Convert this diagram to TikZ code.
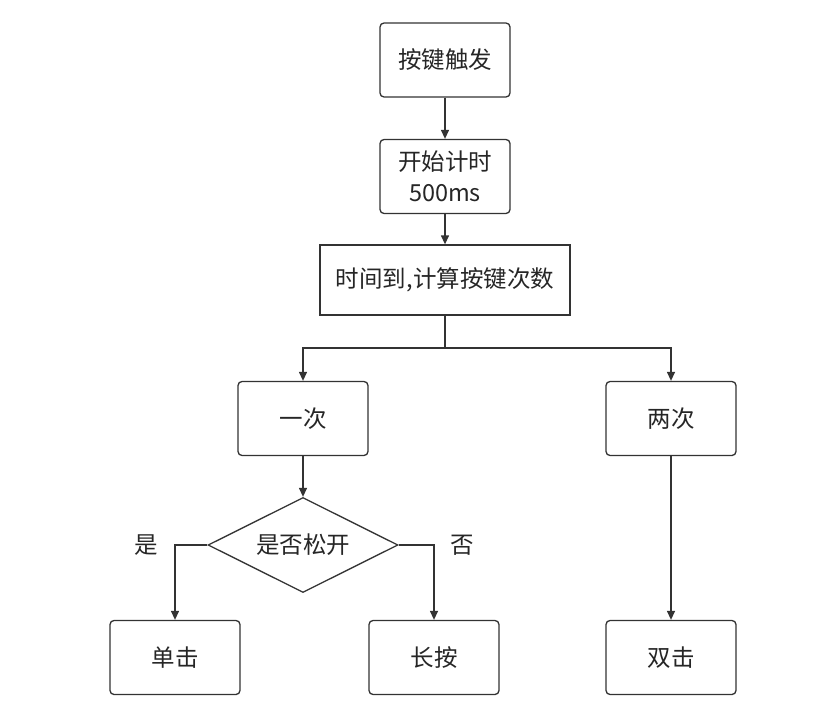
\documentclass[tikz,border=0pt]{standalone}
\usepackage{fontspec}
\newfontfamily\cjk{Noto Sans CJK SC}
\usetikzlibrary{shapes.geometric,arrows.meta}
\definecolor{ln}{HTML}{333333}
\definecolor{tx}{HTML}{262626}
\tikzset{
  x=1pt,y=-1pt,
  every node/.style={font=\cjk\fontsize{23.5}{31}\selectfont,text=tx},
  rbox/.style={draw=ln,line width=1.3pt,rounded corners=4pt,minimum width=130pt,minimum height=74pt,inner sep=0pt,align=center,fill=white},
  sbox/.style={draw=ln,line width=1.3pt,minimum width=250pt,minimum height=70pt,inner sep=0pt,align=center},
  dia/.style={draw=ln,line width=1.3pt,diamond,aspect=2,minimum width=190pt,minimum height=95pt,inner sep=0pt},
  arr/.style={draw=ln,line width=1.3pt,-{Triangle[length=9pt,width=8pt]}},
  lab/.style={inner sep=0pt}
}
\begin{document}
\begin{tikzpicture}
\useasboundingbox (0,0) rectangle (823,709);
\fill[white] (0,0) rectangle (823,709);
\node[rbox] (a) at (445,60) {按键触发};
\node[rbox] (b) at (445,176.5) {开始计时\\500ms};
\node[sbox] (c) at (445,280) {时间到,计算按键次数};
\node[rbox] (d) at (303,418.5) {一次};
\node[rbox] (e) at (671,418.5) {两次};
\node[dia] (q) at (303,545) {是否松开};
\node[rbox] (f) at (175,657.5) {单击};
\node[rbox] (g) at (434,657.5) {长按};
\node[rbox] (h) at (671,657.5) {双击};
\node[lab] (yes) at (146,545) {是};
\node[lab] (no) at (462,545) {否};
\coordinate (split) at (445,348);
\draw[arr] (a) -- (b);
\draw[arr] (b) -- (c);
\draw[line width=1.3pt,draw=ln] (c.south) -- (split);
\draw[arr] (split) -| (d.north);
\draw[arr] (split) -| (e.north);
\draw[arr] (d) -- (q);
\draw[arr] (q.west) -| (f.north);
\draw[arr] (q.east) -| (g.north);
\draw[arr] (e) -- (h);
\end{tikzpicture}
\end{document}
